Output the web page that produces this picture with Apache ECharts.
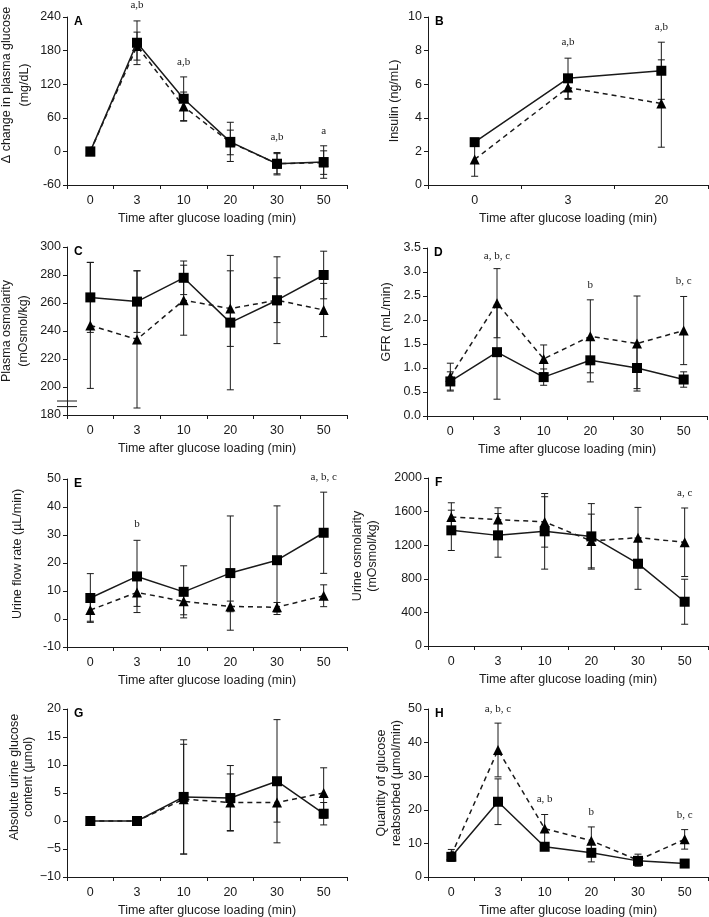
<!DOCTYPE html>
<html>
<head>
<meta charset="utf-8">
<script src="https://cdn.jsdelivr.net/npm/echarts@6/dist/echarts.min.js"></script>
<style>
html, body { margin: 0; padding: 0; background: #fff; }
#chart { width: 709px; height: 917px; }
</style>
</head>
<body>
<div id="chart"></div>
<script>
// categories (time after glucose loading, min)
var timeCats = ['0', '3', '10', '20', '30', '50']
var insulinCats = ['0', '3', '20']

// A: change in plasma glucose
var aSq = [0, 194, 94, 17, -22, -19]
var aSqSd = [null, 39, 39, 35, 20, 29]
var aTri = [0, 188, 80, 16, -22, -20]
var aTriSd = [null, 25, 26, 22, 18, 21]
var aNoteText = ['', 'a,b', 'a,b', '', 'a,b', 'a']
var aNoteY = [null, 262, 160, null, 25, 37]

// B: insulin
var bSq = [2.55, 6.35, 6.8]
var bSqSd = [0.2, 1.2, 1.7]
var bTri = [1.52, 5.8, 4.85]
var bTriSd = [1.0, 0.7, 2.6]
var bNoteText = ['', 'a,b', 'a,b']
var bNoteY = [null, 8.5, 9.4]

// C: plasma osmolarity
var cSq = [264, 261, 278, 246, 262, 280]
var cSqSd = [25, 22, 12, 48, 31, 17]
var cTri = [244, 234, 262, 256, 262, 255]
var cTriSd = [45, 49, 25, 27, 16, 19]

// D: GFR
var dSq = [0.72, 1.33, 0.81, 1.16, 1.0, 0.76]
var dSqSd = [0.2, 0.98, 0.17, 0.45, 0.43, 0.16]
var dTri = [0.82, 2.35, 1.19, 1.66, 1.51, 1.78]
var dTriSd = [0.28, 0.72, 0.29, 0.76, 0.99, 0.71]
var dNoteText = ['', 'a, b, c', '', 'b', '', 'b, c']
var dNoteY = [null, 3.34, null, 2.73, null, 2.81]

// E: urine flow rate
var eSq = [7.5, 15.2, 9.7, 16.4, 21, 30.8]
var eSqSd = [8.7, 12.9, 9.3, 20.4, 19.4, 14.5]
var eTri = [3.2, 9.5, 6.3, 4.5, 4.2, 8.3]
var eTriSd = [4, 5, 4.8, 1.9, 1.7, 3.9]
var eNoteText = ['', 'b', '', '', '', 'a, b, c']
var eNoteY = [null, 33.8, null, null, null, 50.7]

// F: urine osmolarity
var fSq = [1377, 1317, 1365, 1305, 980, 527]
var fSqSd = [240, 260, 450, 390, 305, 268]
var fTri = [1537, 1505, 1477, 1250, 1290, 1235]
var fTriSd = [168, 140, 300, 320, 360, 408]
var fNoteText = ['', '', '', '', '', 'a, c']
var fNoteY = [null, null, null, null, null, 1824]

// G: absolute urine glucose content
var gSq = [0, 0, 4.3, 4.1, 7.1, 1.3]
var gSqSd = [null, null, 10.2, 5.8, 11.0, 2.0]
var gTri = [0, 0, 3.9, 3.3, 3.3, 5.0]
var gTriSd = [null, null, 9.8, 5.1, 3.5, 4.5]

// H: quantity of glucose reabsorbed
var hSq = [6.0, 22.4, 9.0, 7.2, 4.8, 4.0]
var hSqSd = [1.3, 6.8, 1.0, 2.7, 1.3, 0.5]
var hTri = [6.5, 37.8, 14.4, 10.8, 5.0, 11.2]
var hTriSd = [1.7, 8.0, 4.2, 4.1, 1.8, 2.9]
var hNoteText = ['', 'a, b, c', 'a, b', 'b', '', 'b, c']
var hNoteY = [null, 50, 23.1, 19.3, null, 18.4]

var FONT = '"Liberation Sans", Arial, sans-serif'
var INK = '#1a1a1a'

var panels = [
    { letter: 'A', cats: timeCats, sq: aSq, sqSd: aSqSd, tri: aTri, triSd: aTriSd, nt: aNoteText, ny: aNoteY,
      min: -60, max: 240, step: 60, name: 'Δ change in plasma glucose\n(mg/dL)', left: 67, top: 17, gap: 33, shift: 16, lh: 18 },
    { letter: 'B', cats: insulinCats, sq: bSq, sqSd: bSqSd, tri: bTri, triSd: bTriSd, nt: bNoteText, ny: bNoteY,
      min: 0, max: 10, step: 2, name: 'Insulin (ng/mL)', left: 428, top: 17, gap: 26, shift: 0, lh: 15 },
    { letter: 'C', cats: timeCats, sq: cSq, sqSd: cSqSd, tri: cTri, triSd: cTriSd, nt: null, ny: null,
      min: 180, max: 300, step: 20, name: 'Plasma osmolarity\n(mOsmol/kg)', left: 67, top: 247, gap: 35, shift: 0, lh: 17 },
    { letter: 'D', cats: timeCats, sq: dSq, sqSd: dSqSd, tri: dTri, triSd: dTriSd, nt: dNoteText, ny: dNoteY,
      min: 0, max: 3.5, step: 0.5, name: 'GFR (mL/min)', left: 427, top: 248, gap: 33, shift: 10, lh: 15, dec: 1 },
    { letter: 'E', cats: timeCats, sq: eSq, sqSd: eSqSd, tri: eTri, triSd: eTriSd, nt: eNoteText, ny: eNoteY,
      min: -10, max: 50, step: 10, name: 'Urine flow rate (µL/min)', left: 67, top: 479, gap: 42, shift: 9, lh: 15 },
    { letter: 'F', cats: timeCats, sq: fSq, sqSd: fSqSd, tri: fTri, triSd: fTriSd, nt: fNoteText, ny: fNoteY,
      min: 0, max: 2000, step: 400, name: 'Urine osmolarity\n(mOsmol/kg)', left: 428, top: 478, gap: 48, shift: 6, lh: 15 },
    { letter: 'G', cats: timeCats, sq: gSq, sqSd: gSqSd, tri: gTri, triSd: gTriSd, nt: null, ny: null,
      min: -10, max: 20, step: 5, name: 'Absolute urine glucose\ncontent (µmol)', left: 67, top: 709, gap: 30, shift: 16, lh: 14, minus: true },
    { letter: 'H', cats: timeCats, sq: hSq, sqSd: hSqSd, tri: hTri, triSd: hTriSd, nt: hNoteText, ny: hNoteY,
      min: 0, max: 50, step: 10, name: 'Quantity of glucose\nreabsorbed (µmol/min)', left: 428, top: 709, gap: 23, shift: 10, lh: 15 }
]

function errData(means, sds) {
    var out = []
    means.forEach(function (m, i) {
        if (sds[i] != null) out.push([i, m - sds[i], m + sds[i]])
    })
    return out
}

function drawErr(params, api) {
    var hi = api.coord([api.value(0), api.value(2)])
    var lo = api.coord([api.value(0), api.value(1)])
    var cap = 3.5
    function seg(x1, y1, x2, y2) {
        return { type: 'line', shape: { x1: x1, y1: y1, x2: x2, y2: y2 }, style: { stroke: INK, lineWidth: 1 } }
    }
    return {
        type: 'group',
        children: [
            seg(hi[0], hi[1], lo[0], lo[1]),
            seg(hi[0] - cap, hi[1], hi[0] + cap, hi[1]),
            seg(lo[0] - cap, lo[1], lo[0] + cap, lo[1])
        ]
    }
}

var grids = [], xAxes = [], yAxes = [], series = [], graphics = []

panels.forEach(function (p, k) {
    grids.push({ left: p.left, top: p.top, width: 280, height: 168, outerBoundsMode: 'none' })

    xAxes.push({
        type: 'category', gridIndex: k, data: p.cats, boundaryGap: true,
        name: 'Time after glucose loading (min)', nameLocation: 'middle', nameGap: 27,
        nameTextStyle: { fontFamily: FONT, fontSize: 12.5, color: INK },
        axisLine: { show: true, onZero: false, lineStyle: { color: INK, width: 1 } },
        axisTick: { show: true, length: 4, lineStyle: { color: INK } },
        axisLabel: { fontFamily: FONT, fontSize: 12.5, color: INK, margin: 9, interval: 0 },
        splitLine: { show: false }
    })

    yAxes.push({
        type: 'value', gridIndex: k, min: p.min, max: p.max, interval: p.step,
        name: p.name, nameLocation: 'middle', nameGap: p.gap,
        nameTextStyle: { fontFamily: FONT, fontSize: 12.5, color: INK, lineHeight: p.lh, padding: [0, 0, 0, p.shift * 2] },
        axisLine: { show: true, lineStyle: { color: INK, width: 1 } },
        axisTick: { show: true, length: 4, lineStyle: { color: INK } },
        axisLabel: {
            fontFamily: FONT, fontSize: 12.5, color: INK, margin: 6,
            formatter: function (v) {
                var s = p.dec ? v.toFixed(p.dec) : String(v)
                return p.minus ? s.replace('-', '\u2212') : s
            }
        },
        splitLine: { show: false }
    })

    series.push({
        type: 'custom', xAxisIndex: k, yAxisIndex: k, renderItem: drawErr,
        data: errData(p.tri, p.triSd), encode: { x: 0, y: [1, 2] }, z: 2, silent: true
    })
    series.push({
        type: 'custom', xAxisIndex: k, yAxisIndex: k, renderItem: drawErr,
        data: errData(p.sq, p.sqSd), encode: { x: 0, y: [1, 2] }, z: 2, silent: true
    })
    series.push({
        type: 'line', xAxisIndex: k, yAxisIndex: k, data: p.tri,
        symbol: 'triangle', symbolSize: 10, showSymbol: true,
        lineStyle: { color: INK, width: 1.5, type: [5, 4] },
        itemStyle: { color: '#000' }, z: 3, silent: true, animation: false
    })
    series.push({
        type: 'line', xAxisIndex: k, yAxisIndex: k, data: p.sq,
        symbol: 'rect', symbolSize: 10, showSymbol: true,
        lineStyle: { color: INK, width: 1.5 },
        itemStyle: { color: '#000' }, z: 4, silent: true, animation: false
    })

    if (p.nt) {
        var texts = [], pts = []
        p.nt.forEach(function (t, i) {
            if (t) { texts.push(t); pts.push([i, p.ny[i]]) }
        })
        series.push({
            type: 'custom', xAxisIndex: k, yAxisIndex: k, data: pts, encode: { x: 0, y: 1 }, z: 5, silent: true,
            renderItem: function (params, api) {
                var c = api.coord([api.value(0), api.value(1)])
                return {
                    type: 'text', x: c[0], y: c[1],
                    style: {
                        text: texts[params.dataIndex], fill: INK,
                        font: '11px "Liberation Serif", "Times New Roman", serif',
                        align: 'center', verticalAlign: 'middle'
                    }
                }
            }
        })
    }

    graphics.push({
        type: 'text', left: p.left + 7, top: p.top - 1,
        style: { text: p.letter, font: 'bold 12px ' + FONT, fill: '#000' }
    })
})

var myChart = echarts.init(document.getElementById('chart'))

var option = {
    backgroundColor: '#ffffff',
    animation: false,
    grid: grids,
    xAxis: xAxes,
    yAxis: yAxes,
    series: series,
    graphic: graphics
}
myChart.setOption(option)

// axis break marks on panel C
var y1 = myChart.convertToPixel({ yAxisIndex: 2 }, 190)
var y2 = myChart.convertToPixel({ yAxisIndex: 2 }, 186)
var ax = panels[2].left
graphics.push(
    { type: 'line', shape: { x1: ax - 10, y1: y1, x2: ax + 10, y2: y1 }, style: { stroke: INK, lineWidth: 1 } },
    { type: 'line', shape: { x1: ax - 10, y1: y2, x2: ax + 10, y2: y2 }, style: { stroke: INK, lineWidth: 1 } }
)
myChart.setOption({ graphic: graphics })
</script>
</body>
</html>
